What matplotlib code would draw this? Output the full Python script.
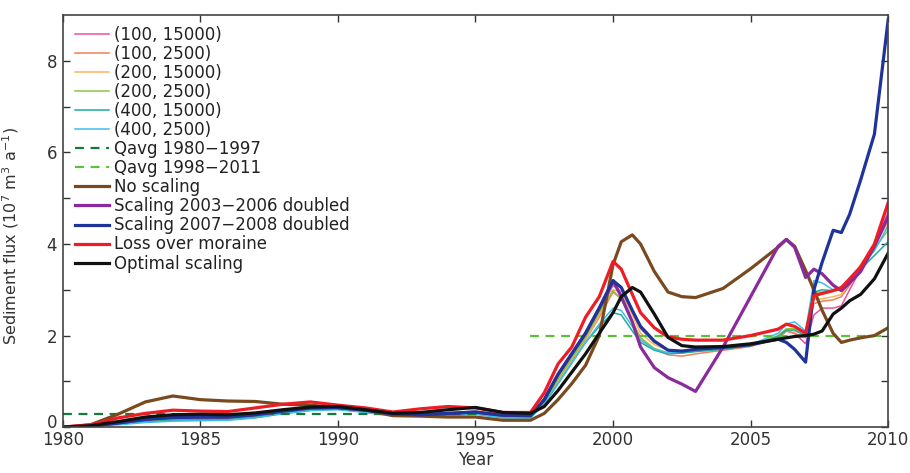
import numpy as np
import matplotlib.pyplot as plt
from matplotlib.transforms import ScaledTranslation

plt.rcParams['font.family'] = ['DejaVu Sans']

years = [1980, 1981, 1982, 1983, 1984, 1985, 1986, 1987, 1988, 1989, 1990,
         1991, 1992, 1993, 1994, 1995, 1996, 1997, 1997.5, 1998, 1998.5,
         1999, 1999.5, 2000, 2000.3, 2000.7, 2001, 2001.5, 2002, 2002.5,
         2003, 2004, 2005, 2006, 2006.3, 2006.6, 2007, 2007.3, 2007.6,
         2008, 2008.3, 2008.6, 2009, 2009.5, 2010]

# parameter runs (thin lines)
run_100_15000 = [0, 0.02, 0.08, 0.15, 0.19, 0.2, 0.2, 0.25, 0.33, 0.4, 0.41,
                 0.35, 0.27, 0.27, 0.3, 0.32, 0.24, 0.23, 0.55, 1.05, 1.5,
                 1.95, 2.5, 3.1, 2.95, 2.5, 2.15, 1.85, 1.68, 1.65,
                 1.68, 1.72, 1.78, 1.95, 2.1, 2.05, 1.82, 2.45, 2.6,
                 2.6, 2.65, 3.0, 3.45, 3.95, 4.7]
run_100_2500 = [0, 0.02, 0.08, 0.15, 0.19, 0.2, 0.2, 0.25, 0.33, 0.4, 0.41,
                0.35, 0.27, 0.28, 0.3, 0.32, 0.24, 0.23, 0.55, 1.0, 1.45,
                1.9, 2.4, 2.95, 2.8, 2.3, 1.95, 1.7, 1.58, 1.55,
                1.6, 1.68, 1.76, 1.95, 2.1, 2.05, 1.95, 2.7, 2.75,
                2.78, 2.85, 3.1, 3.5, 3.95, 4.5]
run_200_15000 = [0, 0.02, 0.07, 0.14, 0.18, 0.19, 0.19, 0.24, 0.32, 0.39, 0.4,
                 0.34, 0.27, 0.27, 0.29, 0.31, 0.23, 0.22, 0.52, 1.0, 1.45,
                 1.9, 2.45, 3.0, 2.95, 2.45, 2.05, 1.8, 1.68, 1.68,
                 1.7, 1.73, 1.8, 1.98, 2.12, 2.1, 2.0, 2.8, 2.8,
                 2.85, 2.9, 3.2, 3.55, 4.0, 4.45]
run_200_2500 = [0, 0.02, 0.07, 0.13, 0.17, 0.18, 0.18, 0.23, 0.31, 0.38, 0.4,
                0.34, 0.26, 0.26, 0.28, 0.3, 0.22, 0.22, 0.52, 1.05, 1.5,
                1.95, 2.5, 2.98, 2.8, 2.3, 1.95, 1.72, 1.62, 1.62,
                1.66, 1.72, 1.8, 2.0, 2.15, 2.15, 2.05, 2.95, 2.95,
                2.98, 3.0, 3.2, 3.5, 3.9, 4.3]
run_400_15000 = [0, 0.02, 0.06, 0.12, 0.15, 0.16, 0.16, 0.21, 0.3, 0.37, 0.39,
                 0.33, 0.25, 0.25, 0.27, 0.29, 0.21, 0.21, 0.5, 0.95, 1.4,
                 1.85, 2.2, 2.5, 2.45, 2.1, 1.85, 1.68, 1.6, 1.62,
                 1.65, 1.7, 1.78, 1.98, 2.12, 2.12, 2.0, 2.95, 3.0,
                 2.98, 3.0, 3.15, 3.45, 3.75, 4.05]
run_400_2500 = [0, 0.02, 0.05, 0.1, 0.13, 0.14, 0.15, 0.2, 0.29, 0.36, 0.38,
                0.32, 0.24, 0.24, 0.26, 0.28, 0.2, 0.2, 0.5, 0.95, 1.4,
                1.85, 2.25, 2.6, 2.55, 2.2, 1.9, 1.7, 1.62, 1.65,
                1.68, 1.72, 1.8, 2.05, 2.25, 2.3, 2.1, 3.2, 3.15,
                3.0, 3.05, 3.2, 3.5, 3.85, 4.4]

# scenarios (thick lines)
no_scaling = [0, 0.05, 0.28, 0.55, 0.68, 0.6, 0.57, 0.56, 0.5, 0.48, 0.42,
              0.38, 0.25, 0.24, 0.22, 0.22, 0.15, 0.15, 0.3, 0.6, 0.95,
              1.35, 2.0, 3.55, 4.05, 4.2, 4.0, 3.4, 2.95, 2.85,
              2.83, 3.03, 3.46, 3.93, 4.1, 3.95, 3.42, 3.0, 2.55,
              2.05, 1.85, 1.9, 1.95, 2.0, 2.17]
scaling_0306 = [0, 0.02, 0.09, 0.17, 0.21, 0.22, 0.22, 0.27, 0.35, 0.42, 0.43,
                0.37, 0.29, 0.27, 0.3, 0.33, 0.26, 0.25, 0.6, 1.15, 1.6,
                2.05, 2.6, 3.2, 2.85, 2.3, 1.75, 1.3, 1.08, 0.94,
                0.78, 1.75, 2.85, 3.95, 4.1, 3.93, 3.27, 3.45, 3.35,
                3.1, 2.98, 3.15, 3.4, 3.95, 4.6]
scaling_0708 = [0, 0.02, 0.09, 0.17, 0.21, 0.22, 0.22, 0.27, 0.35, 0.42, 0.43,
                0.37, 0.29, 0.27, 0.3, 0.33, 0.26, 0.25, 0.6, 1.15, 1.6,
                2.05, 2.6, 3.2, 3.05, 2.55, 2.2, 1.88, 1.68, 1.66,
                1.7, 1.74, 1.8, 1.92, 1.85, 1.7, 1.42, 3.0, 3.6,
                4.3, 4.25, 4.65, 5.4, 6.4, 8.9]
loss_moraine = [0, 0.05, 0.2, 0.3, 0.37, 0.35, 0.34, 0.42, 0.5, 0.55, 0.48,
                0.42, 0.33, 0.4, 0.45, 0.42, 0.32, 0.32, 0.75, 1.38, 1.75,
                2.4, 2.85, 3.62, 3.45, 2.9, 2.5, 2.17, 1.97, 1.92,
                1.9, 1.9, 2.0, 2.14, 2.25, 2.2, 2.05, 2.87, 2.92,
                2.98, 3.05, 3.24, 3.5, 4.0, 4.9]
optimal = [0, 0.03, 0.12, 0.22, 0.27, 0.28, 0.27, 0.31, 0.38, 0.44, 0.45,
           0.38, 0.3, 0.32, 0.38, 0.43, 0.32, 0.3, 0.45, 0.8, 1.2,
           1.6, 2.05, 2.5, 2.85, 3.05, 2.95, 2.47, 1.96, 1.78,
           1.75, 1.76, 1.82, 1.92, 1.95, 1.98, 2.0, 2.03, 2.1,
           2.47, 2.6, 2.76, 2.9, 3.24, 3.8]

qavg_early = 0.28
qavg_late = 2.0

thin_runs = [("(100, 15000)", run_100_15000, "#ec4fa0"),
             ("(100, 2500)", run_100_2500, "#f47f5c"),
             ("(200, 15000)", run_200_15000, "#fbb45c"),
             ("(200, 2500)", run_200_2500, "#8cc63f"),
             ("(400, 15000)", run_400_15000, "#1aac9c"),
             ("(400, 2500)", run_400_2500, "#3ebde9")]
thick_runs = [("No scaling", no_scaling, "#7a4a1f"),
              ("Scaling 2003\u22122006 doubled", scaling_0306, "#8a2a9c"),
              ("Scaling 2007\u22122008 doubled", scaling_0708, "#1f3499"),
              ("Loss over moraine", loss_moraine, "#ee1c25"),
              ("Optimal scaling", optimal, "#111111")]

fig = plt.figure(figsize=(9.1, 4.73), dpi=100)
ax = fig.add_axes([0.069, 0.097, 0.907, 0.871])

for label, vals, col in thin_runs:
    ax.plot(years, vals, color=col, lw=1.1, label=label)

ax.plot([1980, 1997], [qavg_early, qavg_early], color="#137a3a", lw=1.6,
        ls=(0, (4, 3)), label="Qavg 1980\u22121997")
ax.plot([1997, 2010], [qavg_late, qavg_late], color="#5cc13a", lw=1.6,
        ls=(0, (4, 3)), label="Qavg 1998\u22122011")

for label, vals, col in thick_runs:
    ax.plot(years, vals, color=col, lw=2.3, label=label)

ax.set_xlim(1980, 2010)
ax.set_ylim(0, 9)
ax.set_xticks(np.arange(1980, 2011, 5))
ax.set_yticks([0, 2, 4, 6, 8])
ax.set_yticks([1, 3, 5, 7], minor=True)
ax.tick_params(which="both", direction="in", top=True, right=True,
               length=5, width=1, labelsize=12, colors="#333333")
ax.tick_params(axis="x", pad=3)
ax.tick_params(axis="y", pad=4)
# lift the "0" so it clears the "1980" below it
up = ScaledTranslation(0, 4.5 / 72, fig.dpi_scale_trans)
ax.get_yticklabels()[0].set_transform(ax.get_yticklabels()[0].get_transform() + up)
for sp in ax.spines.values():
    sp.set_linewidth(1.2)
    sp.set_color("#444444")

ax.set_xlabel("Year", fontsize=12, color="#333333", labelpad=1)
ax.set_ylabel(r"Sediment flux (10$^7$ m$^3$ a$^{-1}$)", fontsize=11.5,
              color="#333333")
ax.yaxis.set_label_coords(-0.051, 0.464)

leg = ax.legend(loc="upper left", frameon=False, fontsize=12,
                handlelength=2.0, handletextpad=0.3, labelspacing=0.065,
                borderaxespad=0.1, bbox_to_anchor=(0.005, 0.995))
for t in leg.get_texts():
    t.set_color("#222222")

fig.savefig("out.png", dpi=100)
